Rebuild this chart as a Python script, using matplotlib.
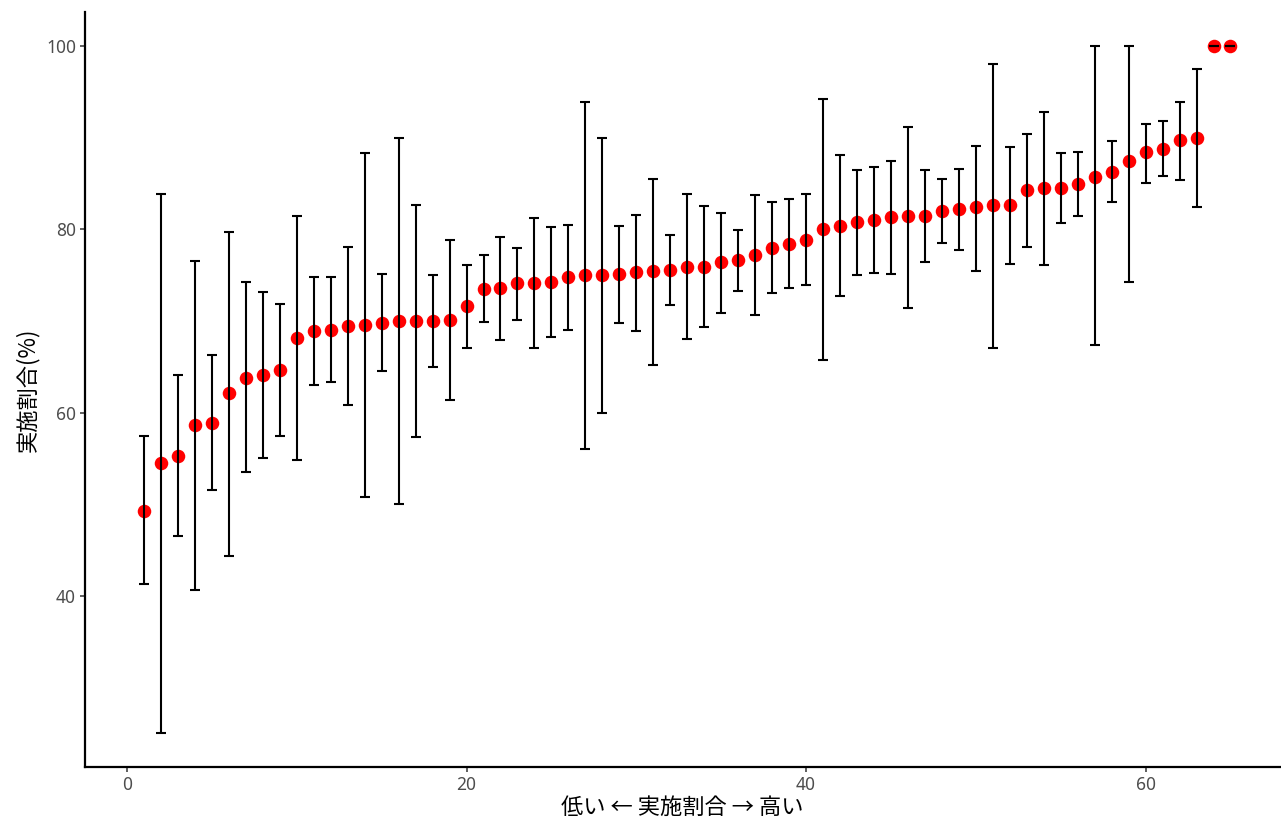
import matplotlib
matplotlib.use("Agg")
import matplotlib.pyplot as plt
import numpy as np

plt.rcParams['font.family'] = ['Noto Sans CJK JP', 'DejaVu Sans']

rank = list(range(1, 66))
rate = [49.3, 54.5, 55.3, 58.6, 58.9, 62.1, 63.8, 64.1, 64.7, 68.1,
        68.9, 69.0, 69.4, 69.6, 69.8, 70.0, 70.0, 70.0, 70.1, 71.6,
        73.5, 73.6, 74.1, 74.1, 74.3, 74.8, 75.0, 75.0, 75.1, 75.3,
        75.4, 75.6, 75.9, 75.9, 76.4, 76.6, 77.2, 78.0, 78.4, 78.8,
        80.0, 80.4, 80.8, 81.0, 81.3, 81.4, 81.5, 82.0, 82.2, 82.4,
        82.6, 82.7, 84.3, 84.5, 84.5, 84.9, 85.7, 86.3, 87.5, 88.4,
        88.8, 89.7, 90.0, 100.0, 100.0]
upper = [57.4, 83.9, 64.1, 76.5, 66.3, 79.7, 74.2, 73.2, 71.9, 81.4,
         74.8, 74.8, 78.1, 88.3, 75.1, 90.0, 82.7, 75.0, 78.8, 76.1,
         77.2, 79.2, 78.0, 81.2, 80.3, 80.5, 93.9, 90.0, 80.4, 81.6,
         85.5, 79.4, 83.8, 82.5, 81.8, 79.9, 83.7, 83.0, 83.3, 83.8,
         94.2, 88.1, 86.5, 86.8, 87.4, 91.2, 86.5, 85.5, 86.6, 89.1,
         98.0, 89.0, 90.4, 92.8, 88.3, 88.4, 100.0, 89.6, 100.0, 91.5,
         91.8, 93.9, 97.5, 100.0, 100.0]
lower = [41.3, 25.1, 46.5, 40.7, 51.6, 44.4, 53.5, 55.0, 57.5, 54.8,
         63.0, 63.3, 60.8, 50.8, 64.5, 50.0, 57.3, 65.0, 61.4, 67.0,
         69.9, 67.9, 70.1, 67.1, 68.2, 69.0, 56.0, 60.0, 69.8, 68.9,
         65.2, 71.7, 68.0, 69.3, 70.9, 73.3, 70.7, 73.1, 73.6, 73.9,
         65.7, 72.7, 75.0, 75.2, 75.1, 71.4, 76.4, 78.5, 77.7, 75.5,
         67.1, 76.2, 78.1, 76.1, 80.7, 81.4, 67.4, 83.0, 74.2, 85.1,
         85.8, 85.4, 82.4, 100.0, 100.0]

x_ticks = [0, 20, 40, 60]
y_ticks = [40, 60, 80, 100]

fig = plt.figure(figsize=(12.81, 8.22), dpi=100)
ax = fig.add_axes([0.0664, 0.0669, 0.9326, 0.9185])

x = np.array(rank)
y = np.array(rate)
yerr = np.vstack([y - np.array(lower), np.array(upper) - y])

ax.scatter(x, y, s=95, color='#FF0000', zorder=2, linewidths=0)
ax.errorbar(x, y, yerr=yerr, fmt='none', ecolor='black', elinewidth=1.5,
            capsize=3.8, capthick=1.5, zorder=3)

ax.set_xlim(-2.47, 67.9)
ax.set_ylim(21.35, 103.7)
ax.set_xticks(x_ticks)
ax.set_yticks(y_ticks)

for s in ['top', 'right']:
    ax.spines[s].set_visible(False)
for s in ['left', 'bottom']:
    ax.spines[s].set_linewidth(1.6)
    ax.spines[s].set_color('black')

ax.tick_params(axis='both', length=3.5, width=1.1, color='#333333',
               labelcolor='#4D4D4D', labelsize=12.5, pad=3)
for lab in ax.get_xticklabels() + ax.get_yticklabels():
    lab.set_fontfamily(['Noto Sans', 'DejaVu Sans'])

ax.set_xlabel('低い ← 実施割合 → 高い', fontsize=16, color='black', labelpad=1)
ax.set_ylabel('実施割合(%)', fontsize=16, color='black', labelpad=5)

fig.savefig('out.png', dpi=100, facecolor='white')
